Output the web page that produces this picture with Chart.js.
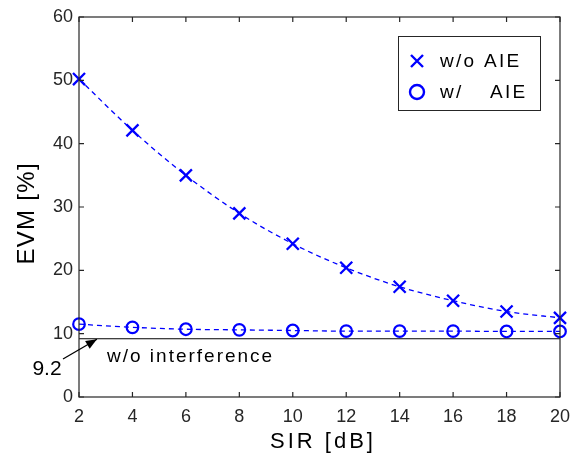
<!DOCTYPE html>
<html><head><meta charset="utf-8">
<script src="https://cdn.jsdelivr.net/npm/chart.js@4/dist/chart.umd.min.js"></script>
<style>html,body{margin:0;padding:0;background:#fff}#wrap{width:571px;height:457px}</style>
</head><body><div id="wrap"><canvas id="c" width="571" height="457"></canvas></div>
<script>
const sir = [2,4,6,8,10,12,14,16,18,20];
const evmWithout = [50.2,42.1,35.0,29.0,24.2,20.4,17.4,15.2,13.5,12.5];
const evmWith = [11.5,11.0,10.7,10.6,10.5,10.4,10.4,10.4,10.35,10.35];
const refLevel = 9.2;
const xTicks = [2,4,6,8,10,12,14,16,18,20];
const yTicks = [0,10,20,30,40,50,60];
const labels = {withoutAIE:'w/o AIE', withLeft:'w/', withRight:'AIE', ref:'w/o interference', refValue:'9.2', x:'SIR [dB]', y:'EVM [%]'};

const FONT = '"Liberation Sans", Arial, sans-serif';
const AX = '#262626';
const BLUE = '#0000ff';

function spaced(ctx, text, x, y, sp){
  let cx = x;
  for (const ch of text){ ctx.fillText(ch, cx, y); cx += ctx.measureText(ch).width + sp; }
  return cx - sp - x;
}
function spacedWidth(ctx, text, sp){
  let w = 0; for (const ch of text) w += ctx.measureText(ch).width + sp; return w - sp;
}

const deco = {
  id:'deco',
  beforeDatasetsDraw(chart){
    const {ctx, chartArea:a, scales:{y}} = chart;
    ctx.save();
    const yr = y.getPixelForValue(refLevel);
    ctx.strokeStyle = '#000'; ctx.lineWidth = 1.2;
    ctx.beginPath(); ctx.moveTo(a.left, yr); ctx.lineTo(a.right, yr); ctx.stroke();
    ctx.restore();
  },
  afterDraw(chart){
    const {ctx, chartArea:a, scales:{x,y}} = chart;
    ctx.save();
    ctx.strokeStyle = AX; ctx.lineWidth = 1.2;
    ctx.strokeRect(a.left, a.top, a.right-a.left, a.bottom-a.top);
    ctx.beginPath();
    xTicks.forEach(v=>{const px=x.getPixelForValue(v);
      ctx.moveTo(px,a.bottom); ctx.lineTo(px,a.bottom-5);
      ctx.moveTo(px,a.top); ctx.lineTo(px,a.top+5);});
    yTicks.forEach(v=>{const py=y.getPixelForValue(v);
      ctx.moveTo(a.left,py); ctx.lineTo(a.left+5,py);
      ctx.moveTo(a.right,py); ctx.lineTo(a.right-5,py);});
    ctx.stroke();
    ctx.fillStyle = '#000';
    ctx.textBaseline = 'alphabetic'; ctx.textAlign = 'left';
    ctx.font = '22px ' + FONT;
    const xw = spacedWidth(ctx, labels.x, 3);
    spaced(ctx, labels.x, (a.left+a.right)/2 + 2 - xw/2, 448, 3);
    ctx.save();
    ctx.translate(34, 214); ctx.rotate(-Math.PI/2);
    ctx.font = '24px ' + FONT;
    const yw = spacedWidth(ctx, labels.y, 1.3);
    spaced(ctx, labels.y, -yw/2, 0, 1.3);
    ctx.restore();
    ctx.font = '19px ' + FONT;
    spaced(ctx, labels.ref, 107, 362, 2);
    ctx.font = '21px ' + FONT;
    ctx.textAlign = 'center';
    ctx.fillText(labels.refValue, 47, 375);
    ctx.textAlign = 'left';
    const x0 = 63, y0 = 359;
    const x1 = x.getPixelForValue(2.67), y1 = y.getPixelForValue(refLevel)+0.5;
    ctx.strokeStyle = '#000'; ctx.lineWidth = 1.3;
    ctx.beginPath(); ctx.moveTo(x0,y0); ctx.lineTo(x1,y1); ctx.stroke();
    const ang = Math.atan2(y1-y0, x1-x0), L=11, W=4.5;
    ctx.beginPath();
    ctx.moveTo(x1,y1);
    ctx.lineTo(x1 - L*Math.cos(ang) + W*Math.sin(ang), y1 - L*Math.sin(ang) - W*Math.cos(ang));
    ctx.lineTo(x1 - L*Math.cos(ang) - W*Math.sin(ang), y1 - L*Math.sin(ang) + W*Math.cos(ang));
    ctx.closePath(); ctx.fill();
    const lx = 398, ly = 36, lw = 142, lh = 74;
    ctx.fillStyle = '#fff'; ctx.fillRect(lx,ly,lw,lh);
    ctx.strokeStyle = AX; ctx.lineWidth = 1;
    ctx.strokeRect(lx+0.5,ly+0.5,lw,lh);
    ctx.strokeStyle = BLUE; ctx.lineWidth = 2.4;
    const mx = 417, r1y = 61, r2y = 92;
    ctx.beginPath();
    ctx.moveTo(mx-6,r1y-6); ctx.lineTo(mx+6,r1y+6);
    ctx.moveTo(mx+6,r1y-6); ctx.lineTo(mx-6,r1y+6);
    ctx.stroke();
    ctx.beginPath(); ctx.arc(mx, r2y, 7, 0, Math.PI*2); ctx.stroke();
    ctx.fillStyle = '#000';
    ctx.font = '19px ' + FONT;
    spaced(ctx, labels.withoutAIE, 440, 67, 2.3);
    spaced(ctx, labels.withLeft, 440, 98, 2.3);
    spaced(ctx, labels.withRight, 490, 98, 2.3);
    ctx.restore();
  }
};

new Chart(document.getElementById('c'), {
  type:'line',
  data:{ datasets:[
    { label:labels.withoutAIE, data: sir.map((s,i)=>({x:s,y:evmWithout[i]})),
      borderColor:BLUE, borderWidth:1.3, borderDash:[5,4], pointStyle:'crossRot',
      pointRadius:8.5, pointBorderWidth:2.3, pointBorderColor:BLUE, pointBackgroundColor:BLUE,
      cubicInterpolationMode:'monotone', fill:false, clip:false },
    { label:'w/ AIE', data: sir.map((s,i)=>({x:s,y:evmWith[i]})),
      borderColor:BLUE, borderWidth:1.3, borderDash:[5,4], pointStyle:'circle',
      pointRadius:5.8, pointBorderWidth:2.2, pointBorderColor:BLUE, pointBackgroundColor:'rgba(0,0,0,0)',
      cubicInterpolationMode:'monotone', fill:false, clip:false }
  ]},
  options:{
    responsive:false, animation:false, devicePixelRatio:1,
    layout:{padding:{top:17,right:11,left:0,bottom:0}},
    plugins:{legend:{display:false}, tooltip:{enabled:false}},
    scales:{
      x:{type:'linear', min:2, max:20,
        afterBuildTicks(s){ s.ticks = xTicks.map(v=>({value:v})); },
        afterFit(s){ s.height = 60; s.paddingLeft = 0; s.paddingRight = 0; },
        grid:{display:false, drawTicks:false}, border:{display:false},
        ticks:{color:AX, font:{family:FONT,size:18}, padding:9, maxRotation:0},
        title:{display:false}
      },
      y:{type:'linear', min:0, max:60,
        afterBuildTicks(s){ s.ticks = yTicks.map(v=>({value:v})); },
        afterFit(s){ s.width = 79; s.paddingTop = 0; s.paddingBottom = 0; },
        grid:{display:false, drawTicks:false}, border:{display:false},
        ticks:{color:AX, font:{family:FONT,size:18}, padding:6},
        title:{display:false}
      }
    }
  },
  plugins:[deco]
});
</script></body></html>
